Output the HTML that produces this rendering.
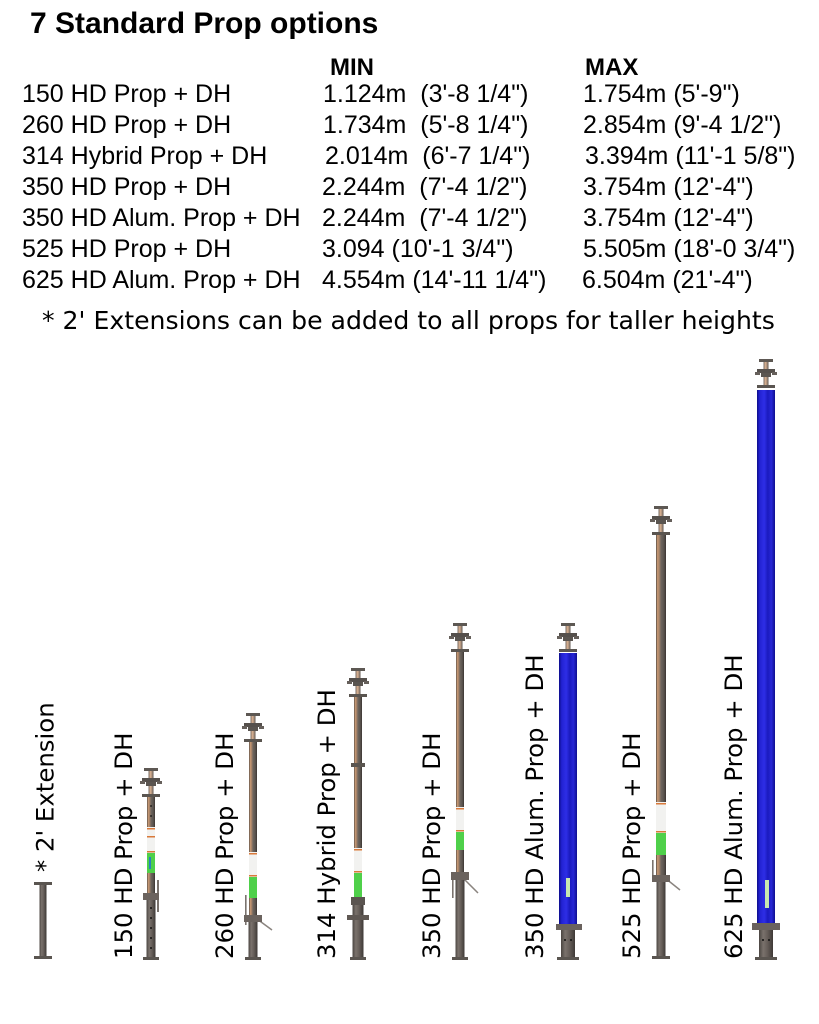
<!DOCTYPE html>
<html><head><meta charset="utf-8"><style>
html,body{margin:0;padding:0;background:#fff;}
svg{display:block;}
.t{font-family:"Liberation Sans",Arial,sans-serif;font-size:25px;fill:#000;white-space:pre;}
.b{font-family:"Liberation Sans",Arial,sans-serif;font-weight:bold;fill:#000;}
.d{font-family:"DejaVu Sans",sans-serif;fill:#000;white-space:pre;}
</style></head><body>
<svg width="819" height="1024" viewBox="0 0 819 1024" xmlns="http://www.w3.org/2000/svg">
<defs>
<linearGradient id="up" x1="0" y1="0" x2="1" y2="0">
<stop offset="0" stop-color="#4a4440"/><stop offset="0.14" stop-color="#c99a74"/><stop offset="0.32" stop-color="#a88468"/><stop offset="0.5" stop-color="#6e665f"/><stop offset="0.8" stop-color="#59524d"/><stop offset="1" stop-color="#3a3532"/>
</linearGradient>
<linearGradient id="lo" x1="0" y1="0" x2="1" y2="0">
<stop offset="0" stop-color="#4a4541"/><stop offset="0.3" stop-color="#7a726c"/><stop offset="0.6" stop-color="#665e59"/><stop offset="1" stop-color="#3e3936"/>
</linearGradient>
<linearGradient id="stem" x1="0" y1="0" x2="1" y2="0">
<stop offset="0" stop-color="#6a625d"/><stop offset="0.35" stop-color="#d8b090"/><stop offset="0.7" stop-color="#a88e7a"/><stop offset="1" stop-color="#55504c"/>
</linearGradient>
<linearGradient id="bl" x1="0" y1="0" x2="1" y2="0">
<stop offset="0" stop-color="#0c0c8a"/><stop offset="0.15" stop-color="#2222d2"/><stop offset="0.4" stop-color="#2e2ee6"/><stop offset="0.6" stop-color="#1a1abf"/><stop offset="0.8" stop-color="#2828d6"/><stop offset="1" stop-color="#0e0e90"/>
</linearGradient>
<g id="head">
<rect x="-7" y="0" width="14" height="3" fill="#5d5853"/>
<rect x="-2.5" y="3" width="5" height="24" fill="url(#stem)"/>
<rect x="-9" y="10" width="18" height="4" fill="#55504c"/>
<rect x="-11" y="13" width="5" height="3" fill="#66605b"/>
<rect x="6" y="13" width="5" height="3" fill="#66605b"/>
<rect x="-5" y="14" width="10" height="4" fill="#5a5550"/>
<rect x="-9" y="26" width="18" height="3" fill="#5a5550"/>
</g>
</defs>

<!-- Header text -->
<text class="b" x="30" y="33" font-size="30">7 Standard Prop options</text>
<text class="b" x="330" y="75" font-size="24">MIN</text>
<text class="b" x="585" y="75" font-size="24">MAX</text>

<text class="t" x="22" y="102">150 HD Prop + DH</text>
<text class="t" x="22" y="133">260 HD Prop + DH</text>
<text class="t" x="22" y="164">314 Hybrid Prop + DH</text>
<text class="t" x="22" y="195">350 HD Prop + DH</text>
<text class="t" x="22" y="226">350 HD Alum. Prop + DH</text>
<text class="t" x="22" y="257">525 HD Prop + DH</text>
<text class="t" x="22" y="288">625 HD Alum. Prop + DH</text>

<text class="t" x="323" y="102">1.124m  (3'-8 1/4")</text>
<text class="t" x="323" y="133">1.734m  (5'-8 1/4")</text>
<text class="t" x="325" y="164">2.014m  (6'-7 1/4")</text>
<text class="t" x="322" y="195">2.244m  (7'-4 1/2")</text>
<text class="t" x="322" y="226">2.244m  (7'-4 1/2")</text>
<text class="t" x="322" y="257">3.094 (10'-1 3/4")</text>
<text class="t" x="322" y="288">4.554m (14'-11 1/4")</text>

<text class="t" x="583" y="102">1.754m (5'-9")</text>
<text class="t" x="583" y="133">2.854m (9'-4 1/2")</text>
<text class="t" x="585" y="164">3.394m (11'-1 5/8")</text>
<text class="t" x="583" y="195">3.754m (12'-4")</text>
<text class="t" x="583" y="226">3.754m (12'-4")</text>
<text class="t" x="583" y="257">5.505m (18'-0 3/4")</text>
<text class="t" x="582" y="288">6.504m (21'-4")</text>

<text class="d" x="42" y="329" font-size="25.15">* 2' Extensions can be added to all props for taller heights</text>

<!-- Rotated labels -->
<text class="d" font-size="24.4" transform="translate(53.5,872) rotate(-90)">* 2' Extension</text>
<text class="d" font-size="24.4" transform="translate(132,959) rotate(-90)">150 HD Prop + DH</text>
<text class="d" font-size="24.4" transform="translate(233,959) rotate(-90)">260 HD Prop + DH</text>
<text class="d" font-size="24.4" transform="translate(335,959) rotate(-90)">314 Hybrid Prop + DH</text>
<text class="d" font-size="24.4" transform="translate(440,959) rotate(-90)">350 HD Prop + DH</text>
<text class="d" font-size="24.4" transform="translate(543,959) rotate(-90)">350 HD Alum. Prop + DH</text>
<text class="d" font-size="24.4" transform="translate(640,959) rotate(-90)">525 HD Prop + DH</text>
<text class="d" font-size="24.4" transform="translate(742,959) rotate(-90)">625 HD Alum. Prop + DH</text>

<!-- Extension -->
<rect x="34" y="882" width="18" height="3" fill="#5a5550"/>
<rect x="39.5" y="885" width="7" height="71" fill="url(#lo)"/>
<rect x="34" y="956" width="18" height="3" fill="#5a5550"/>

<!-- 150 HD -->
<use href="#head" transform="translate(151,768)"/>
<rect x="147" y="797" width="8" height="98" fill="url(#up)"/>
<rect x="147" y="827" width="8" height="26" fill="#f2f2f0"/>
<rect x="147" y="828" width="8" height="1.5" fill="#d9793a"/>
<rect x="147" y="836" width="8" height="1.5" fill="#d9793a"/>
<rect x="147" y="851" width="8" height="1.5" fill="#d9793a"/>
<rect x="147" y="853" width="8" height="20" fill="#4fd04a"/>
<rect x="149" y="857" width="2" height="12" fill="#2a7fc0"/>
<rect x="157" y="880" width="2" height="32" fill="#7a736e"/>
<rect x="143" y="893" width="16" height="7" fill="#6b635e"/>
<rect x="146.5" y="900" width="9" height="57" fill="url(#lo)"/>
<circle cx="151" cy="806" r="0.9" fill="#111"/><circle cx="151" cy="816" r="0.9" fill="#111"/>
<circle cx="151" cy="908" r="1" fill="#111"/><circle cx="151" cy="918" r="1" fill="#111"/><circle cx="151" cy="928" r="1" fill="#111"/><circle cx="151" cy="938" r="1" fill="#111"/><circle cx="151" cy="948" r="1" fill="#111"/>
<rect x="143" y="957" width="16" height="3" fill="#5a5550"/>

<!-- 260 HD -->
<use href="#head" transform="translate(253,713)"/>
<rect x="249" y="742" width="8" height="173" fill="url(#up)"/>
<rect x="249" y="852" width="8" height="25" fill="#f2f2f0"/>
<rect x="249" y="853" width="8" height="1.5" fill="#d9793a"/>
<rect x="249" y="875" width="8" height="1.5" fill="#d9793a"/>
<rect x="249" y="877" width="8" height="21" fill="#4fd04a"/>
<rect x="245" y="895" width="1.6" height="30" fill="#7a736e"/>
<line x1="257" y1="919" x2="272" y2="930" stroke="#8a847f" stroke-width="1.5"/>
<rect x="244" y="915" width="18" height="7" fill="#6b635e"/>
<rect x="248.5" y="922" width="9" height="35" fill="url(#lo)"/>
<rect x="245" y="957" width="16" height="3" fill="#5a5550"/>

<!-- 314 Hybrid -->
<use href="#head" transform="translate(358,668)"/>
<rect x="354" y="697" width="8" height="200" fill="url(#up)"/>
<rect x="351" y="763" width="14" height="4" fill="#5a5550"/>
<rect x="354" y="848" width="8" height="25" fill="#f2f2f0"/>
<rect x="354" y="849" width="8" height="1.5" fill="#d9793a"/>
<rect x="354" y="871" width="8" height="1.5" fill="#d9793a"/>
<rect x="354" y="873" width="8" height="24" fill="#4fd04a"/>
<rect x="351" y="897" width="14" height="8" fill="#5a5450"/>
<rect x="352.5" y="905" width="11" height="52" fill="url(#lo)"/>
<rect x="347" y="915" width="22" height="5" fill="#5f5853"/>
<rect x="350" y="957" width="16" height="3" fill="#5a5550"/>

<!-- 350 HD -->
<use href="#head" transform="translate(460,623)"/>
<rect x="456" y="652" width="8" height="220" fill="url(#up)"/>
<rect x="456" y="807" width="8" height="25" fill="#f2f2f0"/>
<rect x="456" y="808" width="8" height="1.5" fill="#d9793a"/>
<rect x="456" y="830" width="8" height="1.5" fill="#d9793a"/>
<rect x="456" y="832" width="8" height="18" fill="#4fd04a"/>
<rect x="452" y="878" width="1.6" height="20" fill="#7a736e"/>
<line x1="462" y1="877" x2="478" y2="893" stroke="#8a847f" stroke-width="1.5"/>
<rect x="451" y="872" width="18" height="8" fill="#6b635e"/>
<rect x="455.5" y="880" width="9" height="77" fill="url(#lo)"/>
<rect x="452" y="957" width="16" height="3" fill="#5a5550"/>

<!-- 350 Alum -->
<use href="#head" transform="translate(568,623)"/>
<rect x="559" y="653" width="18" height="272" fill="url(#bl)"/>
<rect x="566" y="878" width="4" height="19" fill="#c8e8b0"/>
<rect x="556" y="924" width="26" height="6" fill="#6a625d"/>
<rect x="561" y="930" width="14" height="27" fill="url(#lo)"/>
<circle cx="565" cy="940" r="1" fill="#111"/><circle cx="571" cy="940" r="1" fill="#111"/>
<rect x="557" y="957" width="22" height="3" fill="#5a5550"/>

<!-- 525 HD -->
<use href="#head" transform="translate(661,506)"/>
<rect x="656" y="535" width="10" height="340" fill="url(#up)"/>
<rect x="656" y="802" width="10" height="31" fill="#f2f2f0"/>
<rect x="656" y="803" width="10" height="1.5" fill="#d9793a"/>
<rect x="656" y="831" width="10" height="1.5" fill="#d9793a"/>
<rect x="656" y="833" width="10" height="22" fill="#4fd04a"/>
<rect x="652" y="860" width="1.6" height="22" fill="#7a736e"/>
<line x1="665" y1="878" x2="680" y2="890" stroke="#8a847f" stroke-width="1.5"/>
<rect x="652" y="875" width="18" height="7" fill="#6b635e"/>
<rect x="656.5" y="882" width="9" height="74" fill="url(#lo)"/>
<rect x="652" y="956" width="18" height="3" fill="#5a5550"/>

<!-- 625 Alum -->
<use href="#head" transform="translate(766,359)"/>
<rect x="757" y="390" width="18" height="533" fill="url(#bl)"/>
<rect x="765" y="880" width="4" height="28" fill="#c8e8b0"/>
<rect x="752" y="923" width="28" height="7" fill="#6a625d"/>
<rect x="759" y="930" width="14" height="27" fill="url(#lo)"/>
<circle cx="763" cy="940" r="1" fill="#111"/><circle cx="769" cy="940" r="1" fill="#111"/>
<rect x="755" y="957" width="22" height="3" fill="#5a5550"/>
</svg>
</body></html>
